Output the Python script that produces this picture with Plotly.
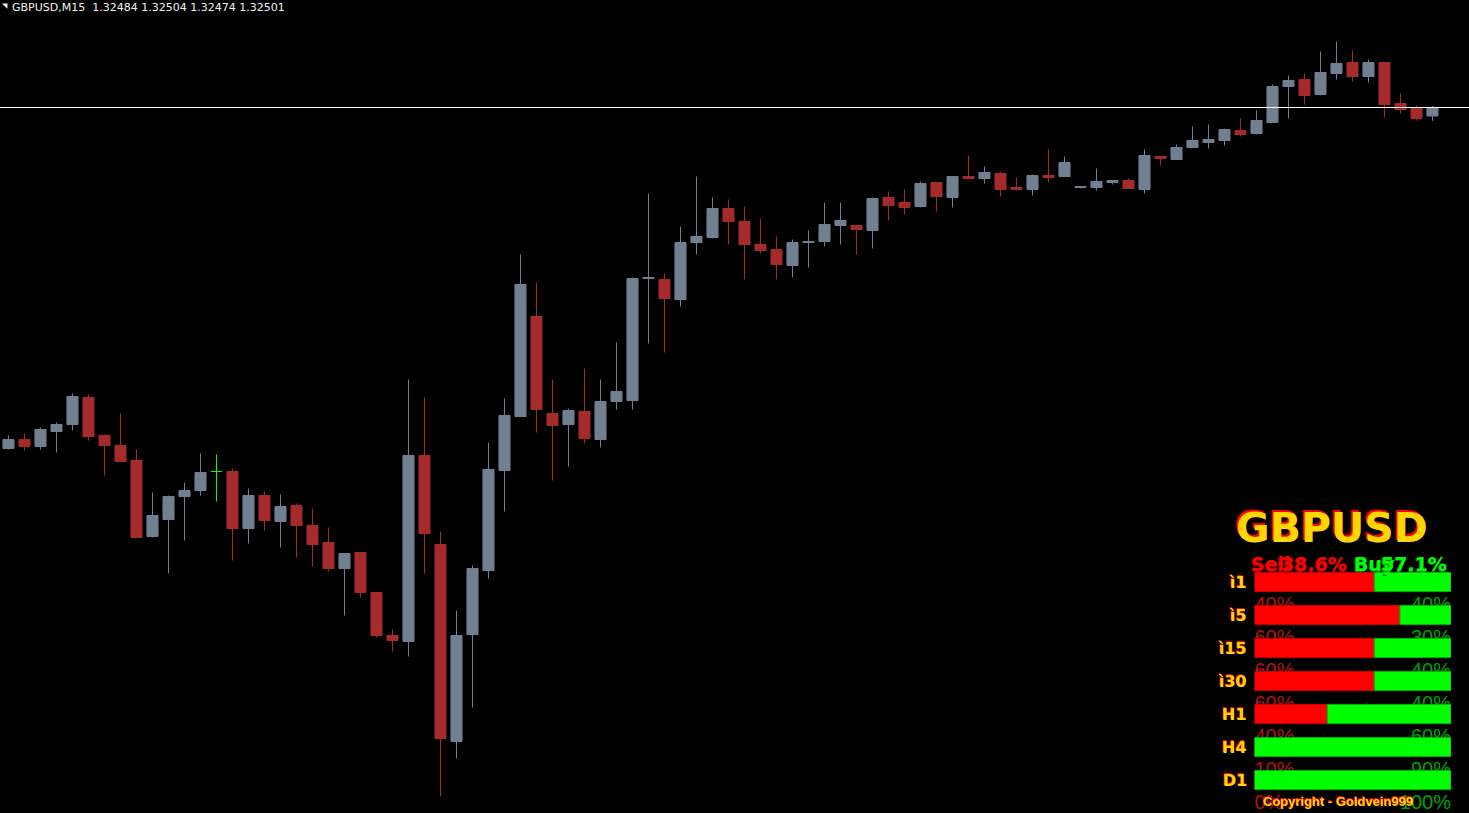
import plotly.graph_objects as go

# ---------------- data ----------------
symbol = "GBPUSD"
timeframe = "M15"
header_ohlc = ["1.32484", "1.32504", "1.32474", "1.32501"]

open_ = [1.31819, 1.31837, 1.31823, 1.31853, 1.31867, 1.31921, 1.31845, 1.31825, 1.31795, 1.31643,
         1.31677, 1.31723, 1.31735, 1.31773, 1.31773, 1.31659, 1.31725, 1.31673, 1.31705, 1.31665,
         1.31631, 1.31579, 1.31611, 1.31531, 1.31445, 1.31433, 1.31805, 1.31627, 1.31233, 1.31447,
         1.31575, 1.31775, 1.31883, 1.32083, 1.31889, 1.31867, 1.31893, 1.31837, 1.31913, 1.31915,
         1.32159, 1.32157, 1.32117, 1.32231, 1.32241, 1.32299, 1.32273, 1.32227, 1.32217, 1.32185,
         1.32231, 1.32233, 1.32265, 1.32265, 1.32255, 1.32321, 1.32311, 1.32303, 1.32351, 1.32321,
         1.32363, 1.32359, 1.32369, 1.32341, 1.32337, 1.32365, 1.32363, 1.32341, 1.32341, 1.32351,
         1.32355, 1.32337, 1.32403, 1.32397, 1.32421, 1.32431, 1.32435, 1.32455, 1.32449, 1.32471,
         1.32543, 1.32557, 1.32527, 1.32569, 1.32591, 1.32563, 1.32591, 1.32509, 1.32501, 1.32484]
high = [1.31845, 1.31849, 1.31861, 1.31871, 1.31929, 1.31927, 1.31847, 1.31889, 1.31817, 1.31731,
        1.31725, 1.31751, 1.31809, 1.31807, 1.31779, 1.31739, 1.31733, 1.31727, 1.31709, 1.31699,
        1.31661, 1.31609, 1.31611, 1.31531, 1.31457, 1.31957, 1.31921, 1.31653, 1.31495, 1.31585,
        1.31831, 1.31919, 1.32207, 1.32151, 1.31957, 1.31899, 1.31979, 1.31957, 1.32031, 1.32161,
        1.32329, 1.32169, 1.32263, 1.32363, 1.32321, 1.32317, 1.32303, 1.32279, 1.32243, 1.32237,
        1.32255, 1.32311, 1.32311, 1.32265, 1.32321, 1.32333, 1.32337, 1.32353, 1.32351, 1.32363,
        1.32405, 1.32383, 1.32373, 1.32361, 1.32367, 1.32417, 1.32403, 1.32343, 1.32379, 1.32355,
        1.32359, 1.32417, 1.32403, 1.32427, 1.32463, 1.32467, 1.32459, 1.32479, 1.32495, 1.32547,
        1.32565, 1.32569, 1.32613, 1.32633, 1.32615, 1.32597, 1.32591, 1.32529, 1.32505, 1.32504]
low = [1.31817, 1.31815, 1.31817, 1.31811, 1.31855, 1.31835, 1.31765, 1.31793, 1.31641, 1.31641,
       1.31569, 1.31635, 1.31725, 1.31713, 1.31595, 1.31629, 1.31655, 1.31621, 1.31601, 1.31583,
       1.31573, 1.31485, 1.31521, 1.31441, 1.31413, 1.31403, 1.31569, 1.31123, 1.31199, 1.31301,
       1.31559, 1.31693, 1.31883, 1.31851, 1.31755, 1.31783, 1.31829, 1.31821, 1.31897, 1.31897,
       1.32029, 1.32011, 1.32103, 1.32207, 1.32239, 1.32227, 1.32157, 1.32209, 1.32157, 1.32161,
       1.32181, 1.32223, 1.32227, 1.32207, 1.32219, 1.32275, 1.32287, 1.32301, 1.32293, 1.32301,
       1.32359, 1.32349, 1.32323, 1.32335, 1.32325, 1.32351, 1.32363, 1.32339, 1.32335, 1.32347,
       1.32339, 1.32329, 1.32385, 1.32397, 1.32421, 1.32419, 1.32425, 1.32443, 1.32447, 1.32471,
       1.32479, 1.32507, 1.32525, 1.32557, 1.32553, 1.32551, 1.32481, 1.32489, 1.32475, 1.32474]
close = [1.31837, 1.31823, 1.31857, 1.31867, 1.31923, 1.31843, 1.31825, 1.31793, 1.31641, 1.31685,
         1.31723, 1.31735, 1.31771, 1.31773, 1.31659, 1.31725, 1.31675, 1.31703, 1.31665, 1.31627,
         1.31579, 1.31609, 1.31531, 1.31445, 1.31435, 1.31805, 1.31649, 1.31239, 1.31445, 1.31579,
         1.31777, 1.31885, 1.32147, 1.31897, 1.31865, 1.31895, 1.31839, 1.31913, 1.31933, 1.32159,
         1.32161, 1.32119, 1.32231, 1.32243, 1.32299, 1.32273, 1.32227, 1.32215, 1.32187, 1.32231,
         1.32233, 1.32267, 1.32275, 1.32257, 1.32319, 1.32305, 1.32301, 1.32349, 1.32323, 1.32363,
         1.32359, 1.32371, 1.32337, 1.32337, 1.32365, 1.32361, 1.32391, 1.32343, 1.32353, 1.32355,
         1.32339, 1.32405, 1.32399, 1.32421, 1.32435, 1.32437, 1.32457, 1.32447, 1.32475, 1.32543,
         1.32555, 1.32525, 1.32571, 1.32589, 1.32563, 1.32591, 1.32507, 1.32497, 1.32479, 1.32501]
doji_bar = 13   # open == close, drawn in lime

hud_frames = ["ì1", "ì5", "ì15", "ì30", "H1", "H4", "D1"]
hud_sell = [61, 74, 61, 61, 37, 0, 0]
hud_buy = [39, 26, 39, 39, 63, 100, 100]
hud_sell_label = ["40%", "60%", "60%", "60%", "40%", "10%", "0%"]
hud_buy_label = ["40%", "30%", "40%", "40%", "60%", "90%", "100%"]
total_sell = "38.6%"
total_buy = "57.1%"
copyright_text = "Copyright - Goldvein999"

# ---------------- styles ----------------
W, H = 1469, 813
BULL = "#708090"
BEAR = "#A52A2A"
DOJI = "#00FF00"
YELLOW = "#FFD700"
BOLD = "DejaVu Sans"
ARIAL = "Liberation Sans"


def px(x):
    return x / W


def py(y):
    return 1 - y / H


idx = list(range(len(open_)))
main_idx = [i for i in idx if i != doji_bar]

fig = go.Figure()
fig.add_trace(go.Candlestick(
    x=main_idx,
    open=[open_[i] for i in main_idx], high=[high[i] for i in main_idx],
    low=[low[i] for i in main_idx], close=[close[i] for i in main_idx],
    increasing=dict(line=dict(color=BULL, width=1), fillcolor=BULL),
    decreasing=dict(line=dict(color=BEAR, width=1), fillcolor=BEAR),
    whiskerwidth=0, hoverinfo="skip", xaxis="x", yaxis="y"))
fig.add_trace(go.Candlestick(
    x=[doji_bar], open=[open_[doji_bar]], high=[high[doji_bar]],
    low=[low[doji_bar]], close=[close[doji_bar]],
    increasing=dict(line=dict(color=DOJI, width=1), fillcolor=DOJI),
    decreasing=dict(line=dict(color=DOJI, width=1), fillcolor=DOJI),
    whiskerwidth=0, hoverinfo="skip", xaxis="x", yaxis="y"))

fig.add_hline(y=close[-1], line_color="#FFFFFF", line_width=1)

# ---------------- HUD ----------------
rows = list(range(len(hud_frames)))
hud_x = [px(1254.5), px(1451)]
hud_y = [py(796.5), py(565.5)]
cap_y = [py(813), py(565.5)]
cap_offset = 0.72

# percentage captions (under the bars, partly covered by the next bar)
fig.add_trace(go.Scatter(x=[0] * len(rows), y=[r + cap_offset for r in rows], mode="text",
                         text=hud_sell_label, textposition="middle right",
                         textfont=dict(family=ARIAL, size=20, color="#B01414"),
                         cliponaxis=False, hoverinfo="skip", xaxis="x2", yaxis="y2"))
fig.add_trace(go.Scatter(x=[100] * len(rows), y=[r + cap_offset for r in rows], mode="text",
                         text=hud_buy_label, textposition="middle left",
                         textfont=dict(family=ARIAL, size=20, color="#00A000"),
                         cliponaxis=False, hoverinfo="skip", xaxis="x2", yaxis="y2"))

fig.add_trace(go.Bar(y=rows, x=hud_sell, orientation="h", width=0.58,
                     marker=dict(color="#FF0000", line=dict(color="#C80000", width=1)),
                     hoverinfo="skip", xaxis="x3", yaxis="y3"))
fig.add_trace(go.Bar(y=rows, x=hud_buy, base=hud_sell, orientation="h", width=0.58,
                     marker=dict(color="#00FF00", line=dict(color="#00B400", width=1)),
                     hoverinfo="skip", xaxis="x3", yaxis="y3"))

annotations = []


def shadow_text(text, x, y, size, color, shadow, dx, dy, family=BOLD, xanchor="center",
                xref="paper", yref="paper"):
    for c, sx, sy in ((shadow, dx, dy), (color, 0, 0)):
        annotations.append(dict(text=text, x=x, y=y, xref=xref, yref=yref, xanchor=xanchor,
                                yanchor="middle", showarrow=False, xshift=sx, yshift=sy,
                                font=dict(family=family, size=size, color=c)))


shadow_text("<b>%s</b>" % symbol, px(1332), py(528), 41, YELLOW, "#FF0000", -2, 2)
shadow_text("<b>Sell</b>", px(1249), py(564), 19, "#FF0000", "#990000", -1, -1, xanchor="left")
shadow_text("<b>%s</b>" % total_sell, px(1279), py(564), 19, "#FF0000", "#990000", -1, -1, xanchor="left")
shadow_text("<b>Buy</b>", px(1352), py(564), 19, "#00FF00", "#008800", -1, -1, xanchor="left")
shadow_text("<b>%s</b>" % total_buy, px(1449), py(564), 19, "#00FF00", "#008800", -1, -1, xanchor="right")
for r, lab in zip(rows, hud_frames):
    shadow_text("<b>%s</b>" % lab, px(1249), r, 16, YELLOW, "#FF0000", -1, 1,
                xanchor="right", yref="y3")
shadow_text("<b>%s</b>" % copyright_text, px(1338), py(801), 13, YELLOW, "#FF0000", -1, 1,
            family=ARIAL)

annotations.append(dict(text="%s,%s  %s" % (symbol, timeframe, " ".join(header_ohlc)),
                        x=px(10), y=py(8), xref="paper", yref="paper", xanchor="left",
                        yanchor="middle", showarrow=False,
                        font=dict(family="DejaVu Sans", size=11, color="#F0F0F0")))
annotations.append(dict(text="◥", x=px(0), y=py(6), xref="paper", yref="paper", xanchor="left",
                        yanchor="middle", showarrow=False,
                        font=dict(family="DejaVu Sans", size=7, color="#F0F0F0")))

hidden = dict(visible=False, fixedrange=True)
half_slot = 0.5 / 16          # half a pixel in bar units -> crisp 1px wicks
half_tick = 0.00001           # half a pixel in price units -> crisp 1px price line
fig.update_layout(
    width=W, height=H, margin=dict(l=0, r=0, t=0, b=0),
    paper_bgcolor="#000000", plot_bgcolor="rgba(0,0,0,0)", showlegend=False,
    barmode="overlay", boxgap=0.31, boxgroupgap=0,
    xaxis=dict(range=[-0.5 - half_slot, W / 16 - 0.5 - half_slot],
               rangeslider=dict(visible=False), **hidden),
    yaxis=dict(range=[1.31089 + half_tick, 1.32715 + half_tick], **hidden),
    xaxis2=dict(domain=hud_x, range=[0, 100], anchor="y2", **hidden),
    yaxis2=dict(domain=cap_y, range=[7.0, -0.5], anchor="x2", **hidden),
    xaxis3=dict(domain=hud_x, range=[0, 100], anchor="y3", **hidden),
    yaxis3=dict(domain=hud_y, range=[6.5, -0.5], anchor="x3", **hidden),
    annotations=annotations,
)

fig.write_html("out.html", config={"displayModeBar": False},
               post_script="document.body.style.margin='0px';document.body.style.background='#000';")
